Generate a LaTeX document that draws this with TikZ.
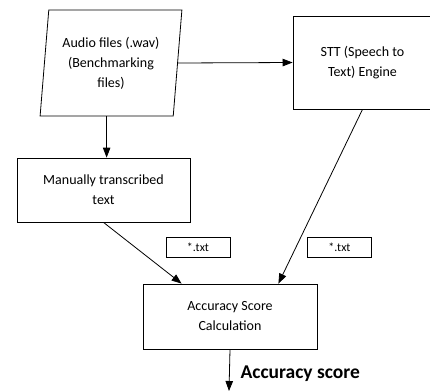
\documentclass[tikz,border=0pt]{standalone}
\usepackage{fontspec}
\setmainfont{Carlito}
\usepackage{tikz}
\usetikzlibrary{shapes.geometric, arrows.meta}

\tikzset{
    block/.style={draw, line width=0.8pt, align=center, font=\fontsize{14}{20}\selectfont},
    tag/.style={draw, line width=0.8pt, minimum width=64pt, minimum height=20pt, inner sep=0pt, font=\fontsize{12}{14}\selectfont},
    flow/.style={line width=0.8pt, -{Triangle[length=10pt, width=7.5pt]}}
}

\begin{document}
\begin{tikzpicture}[x=1pt, y=-1pt]

                \useasboundingbox (0, 0) rectangle (430, 391);

                % Draw the blocks of the flow
                \node[block, trapezium, trapezium left angle=83, trapezium right angle=97,
                      trapezium stretches=true, minimum width=142pt, minimum height=106pt]
                      (audio) at (111, 63) {Audio files (.wav)\\(Benchmarking\\files)};
                \node[block, minimum width=139pt, minimum height=93pt] (stt) at (362.5, 62.5) {STT (Speech to\\Text) Engine};
                \node[block, minimum width=173pt, minimum height=64pt] (manual) at (103.5, 190) {Manually transcribed\\text};
                \node[block, minimum width=174pt, minimum height=65pt] (acc) at (230, 316.5) {Accuracy Score\\Calculation};

                % Add the file type tags
                \node[tag] (txtA) at (198, 247) {*.txt};
                \node[tag] (txtB) at (339.5, 247) {*.txt};

                % Draw the connections
                \draw[flow] (audio.right side) -- (stt.west);
                \draw[flow] (audio.bottom side) -- (audio.bottom side |- manual.north);
                \draw[flow] (manual.south) -- ([xshift=39pt]acc.north west);
                \draw[flow] (stt.south) -- ([xshift=-39pt]acc.north east);

                % Output of the calculation
                \coordinate (out) at (229, 391);
                \draw[flow] (acc.south) -- (out);
                \node[anchor=west, font=\fontsize{19.5}{22}\selectfont\bfseries] (score) at (237, 374) {Accuracy score};

\end{tikzpicture}
\end{document}
